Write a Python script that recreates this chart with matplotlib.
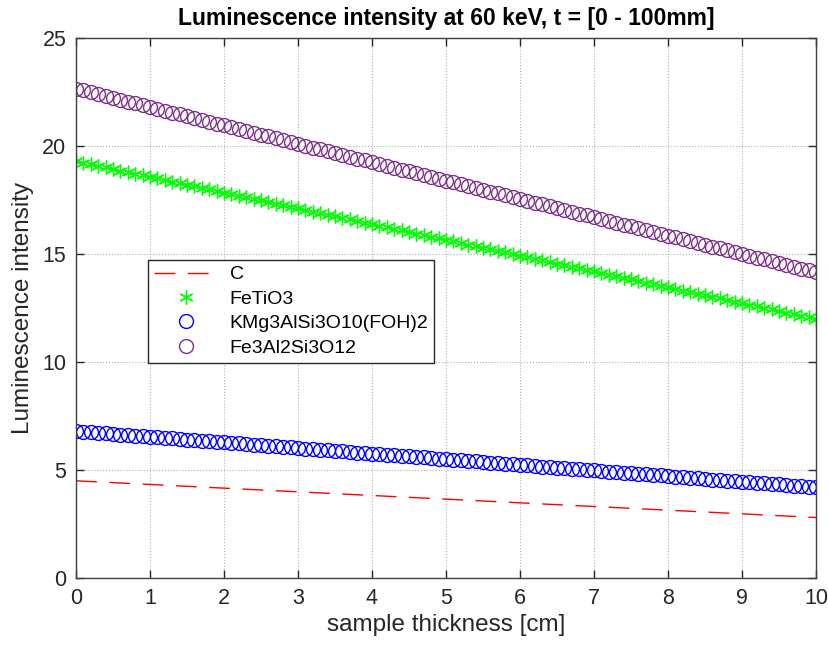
import numpy as np
import matplotlib
matplotlib.use("Agg")
import matplotlib.pyplot as plt

plt.rcParams['font.family'] = ['Liberation Sans', 'DejaVu Sans']

# sample thickness [cm], 0:0.1:10
thickness = np.round(np.arange(0, 101) * 0.1, 1)

fe3al2si3o12 = [
    22.65, 22.57, 22.48, 22.40, 22.31, 22.23, 22.14, 22.06, 21.97, 21.89,
    21.80, 21.72, 21.63, 21.55, 21.46, 21.38, 21.29, 21.21, 21.12, 21.04,
    20.95, 20.87, 20.78, 20.70, 20.61, 20.53, 20.44, 20.36, 20.27, 20.19,
    20.10, 20.02, 19.93, 19.85, 19.76, 19.68, 19.59, 19.51, 19.42, 19.34,
    19.25, 19.17, 19.08, 19.00, 18.91, 18.83, 18.74, 18.66, 18.57, 18.49,
    18.40, 18.32, 18.23, 18.15, 18.06, 17.98, 17.89, 17.81, 17.72, 17.64,
    17.55, 17.47, 17.38, 17.30, 17.21, 17.13, 17.04, 16.96, 16.87, 16.79,
    16.70, 16.62, 16.53, 16.45, 16.36, 16.28, 16.19, 16.11, 16.02, 15.94,
    15.85, 15.77, 15.68, 15.60, 15.51, 15.43, 15.34, 15.26, 15.17, 15.09,
    15.00, 14.92, 14.83, 14.75, 14.66, 14.58, 14.49, 14.41, 14.32, 14.24,
    14.15]

fetio3 = [
    19.30, 19.23, 19.15, 19.08, 19.01, 18.94, 18.86, 18.79, 18.72, 18.64,
    18.57, 18.50, 18.42, 18.35, 18.28, 18.21, 18.13, 18.06, 17.99, 17.91,
    17.84, 17.77, 17.69, 17.62, 17.55, 17.48, 17.40, 17.33, 17.26, 17.18,
    17.11, 17.04, 16.96, 16.89, 16.82, 16.75, 16.67, 16.60, 16.53, 16.45,
    16.38, 16.31, 16.23, 16.16, 16.09, 16.02, 15.94, 15.87, 15.80, 15.72,
    15.65, 15.58, 15.50, 15.43, 15.36, 15.29, 15.21, 15.14, 15.07, 14.99,
    14.92, 14.85, 14.77, 14.70, 14.63, 14.56, 14.48, 14.41, 14.34, 14.26,
    14.19, 14.12, 14.04, 13.97, 13.90, 13.83, 13.75, 13.68, 13.61, 13.53,
    13.46, 13.39, 13.31, 13.24, 13.17, 13.10, 13.02, 12.95, 12.88, 12.80,
    12.73, 12.66, 12.58, 12.51, 12.44, 12.37, 12.29, 12.22, 12.15, 12.07,
    12.00]

kmg3 = [
    6.80, 6.77, 6.75, 6.72, 6.70, 6.67, 6.64, 6.62, 6.59, 6.57,
    6.54, 6.51, 6.49, 6.46, 6.44, 6.41, 6.38, 6.36, 6.33, 6.31,
    6.28, 6.25, 6.23, 6.20, 6.18, 6.15, 6.12, 6.10, 6.07, 6.05,
    6.02, 5.99, 5.97, 5.94, 5.92, 5.89, 5.86, 5.84, 5.81, 5.79,
    5.76, 5.73, 5.71, 5.68, 5.66, 5.63, 5.60, 5.58, 5.55, 5.53,
    5.50, 5.47, 5.45, 5.42, 5.40, 5.37, 5.34, 5.32, 5.29, 5.27,
    5.24, 5.21, 5.19, 5.16, 5.14, 5.11, 5.08, 5.06, 5.03, 5.01,
    4.98, 4.95, 4.93, 4.90, 4.88, 4.85, 4.82, 4.80, 4.77, 4.75,
    4.72, 4.69, 4.67, 4.64, 4.62, 4.59, 4.56, 4.54, 4.51, 4.49,
    4.46, 4.43, 4.41, 4.38, 4.36, 4.33, 4.30, 4.28, 4.25, 4.23,
    4.20]

thickness_c = [0, 1, 2, 3, 4, 5, 6, 7, 8, 9, 10]
carbon = [4.50, 4.33, 4.16, 3.99, 3.82, 3.65, 3.48, 3.31, 3.14, 2.97, 2.80]

series_names = ['C', 'FeTiO3', 'KMg3AlSi3O10(FOH)2', 'Fe3Al2Si3O12']

W, H = 829, 649
fig = plt.figure(figsize=(W / 100, H / 100), dpi=100)
ax = fig.add_axes([76 / W, 1 - 578 / H, (816 - 76) / W, (578 - 38) / H])

ax.plot(thickness_c, carbon, color='red', linestyle=(0, (15, 9)), linewidth=1.0,
        label=series_names[0])
ax.plot(thickness, fetio3, linestyle='none', marker=(6, 2, 0), markersize=10,
        markeredgewidth=1.0, color=(0, 1, 0), label=series_names[1])
ax.plot(thickness, kmg3, linestyle='none', marker='o', markersize=10,
        markerfacecolor='none', markeredgewidth=1.0, color='blue',
        label=series_names[2])
ax.plot(thickness, fe3al2si3o12, linestyle='none', marker='o', markersize=10,
        markerfacecolor='none', markeredgewidth=1.0, color=(0.494, 0.184, 0.556),
        label=series_names[3])

ax.set_xlim(0, 10)
ax.set_ylim(0, 25)
ax.set_xticks(range(0, 11))
ax.set_yticks(range(0, 26, 5))
ax.grid(True, linestyle=':', color='#b0b0b0', linewidth=0.8)
ax.set_axisbelow(True)
ax.tick_params(direction='in', labelsize=15.5, colors='#262626', length=6, width=1,
               top=True, right=True, labeltop=False, labelright=False, pad=7)
for s in ax.spines.values():
    s.set_color('#404040')
    s.set_linewidth(1.0)

ax.set_xlabel('sample thickness [cm]', fontsize=17.5, color='#262626', labelpad=4)
ax.set_ylabel('Luminescence intensity', fontsize=17.5, color='#262626', labelpad=6)
ax.set_title('Luminescence intensity at 60 keV, t = [0 - 100mm]', fontsize=16.5,
             fontweight='bold', pad=9)

leg = ax.legend(loc='upper left', bbox_to_anchor=(148 / W, 1 - 260 / H),
                bbox_transform=fig.transFigure, fontsize=14, frameon=True,
                fancybox=False, edgecolor='#262626', framealpha=1,
                handlelength=3.3, borderpad=0.3, labelspacing=0.35,
                handletextpad=0.6, borderaxespad=0)
leg.get_frame().set_linewidth(1.0)

fig.savefig('out.png', dpi=100)
